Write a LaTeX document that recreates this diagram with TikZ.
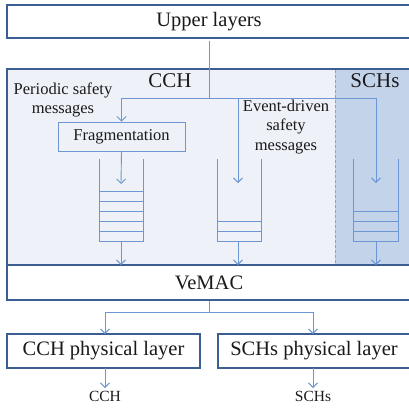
\documentclass[tikz,border=0pt]{standalone}
\usepackage{fontspec}
\setmainfont{Liberation Serif}
\usetikzlibrary{arrows.meta}
\definecolor{darkb}{HTML}{3C5F93}
\definecolor{lineb}{HTML}{6C97D2}
\definecolor{fillcch}{HTML}{EEF2F8}
\definecolor{fillsch}{HTML}{C3D4EA}
\definecolor{dashb}{HTML}{8AA4C8}
\definecolor{txt}{HTML}{1A1A1A}
\tikzset{
  layerbox/.style={draw=darkb, line width=1.6pt, fill=white, inner sep=0pt, text=txt, font=\fontsize{20.5}{24}\selectfont},
  conn/.style={draw=lineb, line width=0.9pt},
  arr/.style={conn, -{Straight Barb[length=4.5pt,width=9pt,line width=0.9pt]}},
  qline/.style={draw=lineb, line width=0.9pt},
  lbl/.style={text=txt, inner sep=0pt, align=center, font=\fontsize{16.5}{19.5}\selectfont},
}
\begin{document}
\begin{tikzpicture}[x=1pt,y=-1pt]
\useasboundingbox (0,0) rectangle (409,416);
% big CCH / SCHs area
\fill[fillcch] (7,69) rectangle (412,265);
\fill[fillsch] (335,69) rectangle (412,265);
\draw[dashb, line width=0.9pt, dash pattern=on 3pt off 2pt] (335,70) -- (335,264);
\draw[darkb, line width=1.6pt] (412,69) -- (7,69) -- (7,265);
% layer boxes
\node[layerbox, minimum width=404pt, minimum height=33pt] (upper) at (209,21.5) {Upper layers};
\node[layerbox, minimum width=404pt, minimum height=35pt] (vemac) at (209,282.5) {VeMAC};
\node[layerbox, minimum width=193pt, minimum height=34pt] (cchphy) at (103.5,351) {CCH physical layer};
\node[layerbox, minimum width=192pt, minimum height=34pt] (schphy) at (314,351) {SCHs physical layer};
% titles
\node[lbl, font=\fontsize{21}{24}\selectfont] (cchlbl) at (170,81) {CCH};
\node[lbl, font=\fontsize{21}{24}\selectfont] (schlbl) at (375,81) {SCHs};
\node[lbl] (periodic) at (63,100) {Periodic safety\\messages};
\node[lbl] (event) at (286,127) {Event-driven\\safety\\messages};
% fragmentation
\node[draw=lineb, line width=0.9pt, fill=fillcch, text=txt, inner sep=0pt, minimum width=127pt, minimum height=29pt, font=\fontsize{16.5}{19.5}\selectfont] (frag) at (121.5,136.5) {Fragmentation};
% queues
\draw[qline] (99,159) -- (99,241) -- (143,241) -- (143,159);
\foreach \yy in {191,201,211,221,231} \draw[qline] (99,\yy) -- (143,\yy);
\draw[qline] (217,159) -- (217,241) -- (261,241) -- (261,159);
\foreach \yy in {221,231} \draw[qline] (217,\yy) -- (261,\yy);
\draw[qline] (353,159) -- (353,241) -- (398,241) -- (398,159);
\foreach \yy in {211,221,231} \draw[qline] (353,\yy) -- (398,\yy);
% coordinates
\coordinate (bus) at (209,98);
\coordinate (q2in) at (238,183);
\coordinate (q3in) at (376,183);
\coordinate (q1in) at (121,184);
\coordinate (q1out) at (121,241);
\coordinate (q2out) at (238,241);
\coordinate (q3out) at (376,241);
\coordinate (v1) at (121,265);
\coordinate (v2) at (238,265);
\coordinate (v3) at (376,265);
\coordinate (split) at (209,312);
\coordinate (cchend) at (105,388);
\coordinate (schend) at (313,388);
% connectors
\draw[conn, shorten <=2pt] (upper.south) -- (bus);
\draw[arr] (bus) -| (frag.north);
\draw[arr] (bus) -| (q2in);
\draw[arr] (bus) -| (q3in);
\draw[arr] (frag.south) -- (q1in);
\draw[arr] (q1out) -- (v1);
\draw[arr] (q2out) -- (v2);
\draw[arr] (q3out) -- (v3);
\draw[conn] (vemac.south) -- (split);
\draw[arr] (split) -| (105,334);
\draw[arr] (split) -| (313,334);
\draw[arr] (105,368) -- (cchend);
\draw[arr] (313,368) -- (schend);
\node[lbl, font=\fontsize{15.5}{18}\selectfont, anchor=north] (cchout) at (105,391) {CCH};
\node[lbl, font=\fontsize{15.5}{18}\selectfont, anchor=north] (schout) at (313,391) {SCHs};
\end{tikzpicture}
\end{document}
